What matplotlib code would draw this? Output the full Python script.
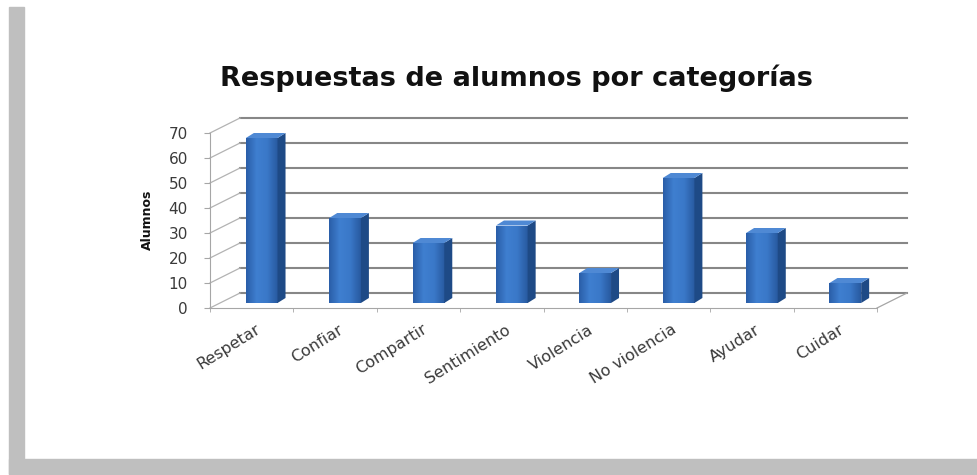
import numpy as np
import matplotlib
matplotlib.use('Agg')
import matplotlib.pyplot as plt
from matplotlib.patches import Polygon, Rectangle
from matplotlib.colors import LinearSegmentedColormap
from matplotlib.transforms import ScaledTranslation

# datos
categorias = ['Respetar', 'Confiar', 'Compartir', 'Sentimiento',
              'Violencia', 'No violencia', 'Ayudar', 'Cuidar']
alumnos = [66, 34, 24, 31, 12, 50, 28, 8]
y_ticks = [0, 10, 20, 30, 40, 50, 60, 70]
titulo = 'Respuestas de alumnos por categorías'
eje_y = 'Alumnos'

W, H = 977, 475
fig = plt.figure(figsize=(W / 100, H / 100), dpi=100)

# marco gris de la captura
fig.patches.append(Rectangle((9 / W, 1 / H), 15 / W, (H - 8) / H,
                             transform=fig.transFigure, color='#bfbfbf', zorder=0))
fig.patches.append(Rectangle((9 / W, 1 / H), (W - 9) / W, 15 / H,
                             transform=fig.transFigure, color='#bfbfbf', zorder=0))

# plano frontal del grafico
ax = fig.add_axes([210 / W, (H - 308) / H, 667 / W, 175 / H])
n = len(categorias)
ymax = y_ticks[-1]
px_x = 667 / n
px_y = 175 / ymax
DX, DY = 30 / px_x, 15 / px_y      # profundidad del suelo
bx, by = 10 / px_x, 5 / px_y       # plano de las barras
dx, dy = 8 / px_x, 5 / px_y        # profundidad de cada barra

for s in ['top', 'right']:
    ax.spines[s].set_visible(False)
ax.spines['left'].set_color('#a6a6a6')
ax.spines['bottom'].set_color('#a6a6a6')

# pared del fondo y lateral
for t in y_ticks:
    ax.plot([-0.5 + DX, n - 0.5 + DX], [t + DY, t + DY], color='#878787',
            lw=1.5, clip_on=False, zorder=1)
    ax.plot([-0.5, -0.5 + DX], [t, t + DY], color='#b3b3b3', lw=0.9,
            clip_on=False, zorder=1)
ax.plot([n - 0.5, n - 0.5 + DX], [0, DY], color='#a6a6a6', lw=0.9,
        clip_on=False, zorder=1)

# barras
x = np.arange(n)
rects = ax.bar(x + bx, alumnos, width=0.38, bottom=by, color='#3470c0',
               lw=0, zorder=3)
grad = LinearSegmentedColormap.from_list('g', ['#2a5ea8', '#3f7fd0', '#3a78c8', '#285aa0'])
for r, v in zip(rects, alumnos):
    l = r.get_x()
    rr = l + r.get_width()
    b = by
    t = by + v
    im = ax.imshow(np.linspace(0, 1, 64).reshape(1, -1), cmap=grad,
                   extent=(l, rr, b, t), aspect='auto', zorder=3.1)
    im.set_clip_path(r)
    ax.add_patch(Polygon([(rr, b), (rr + dx, b + dy), (rr + dx, t + dy), (rr, t)],
                         closed=True, color='#1e4a86', lw=0, zorder=3.2, clip_on=False))
    ax.add_patch(Polygon([(l, t), (rr, t), (rr + dx, t + dy), (l + dx, t + dy)],
                         closed=True, color='#4f89d4', lw=0, zorder=3.2, clip_on=False))

ax.set_xlim(-0.5, n - 0.5)
ax.set_ylim(0, ymax)

ax.set_yticks(y_ticks)
ax.tick_params(axis='y', length=4, width=0.8, color='#a6a6a6', labelsize=11,
               labelcolor='#3a3a3a', pad=12)
ax.set_xticks(x)
ax.set_xticklabels(categorias, rotation=32, ha='right', rotation_mode='anchor',
                   fontsize=11.5, color='#3a3a3a')
ax.tick_params(axis='x', which='major', length=0, pad=10)
ax.set_xticks(np.arange(n + 1) - 0.5, minor=True)
ax.tick_params(axis='x', which='minor', length=3, color='#a6a6a6')
off = ScaledTranslation(0.03, 0, fig.dpi_scale_trans)
for lab in ax.get_xticklabels():
    lab.set_transform(lab.get_transform() + off)

fig.text(516 / W, 1 - 78 / H, titulo, ha='center', va='center',
         fontsize=19.5, fontweight='bold', color='#111111')
fig.text(147 / W, 1 - 220 / H, eje_y, ha='center', va='center', rotation=90,
         fontsize=9, fontweight='bold', color='#111111',
         family=['Liberation Sans Narrow', 'DejaVu Sans'])

fig.savefig('out.png', dpi=100)
